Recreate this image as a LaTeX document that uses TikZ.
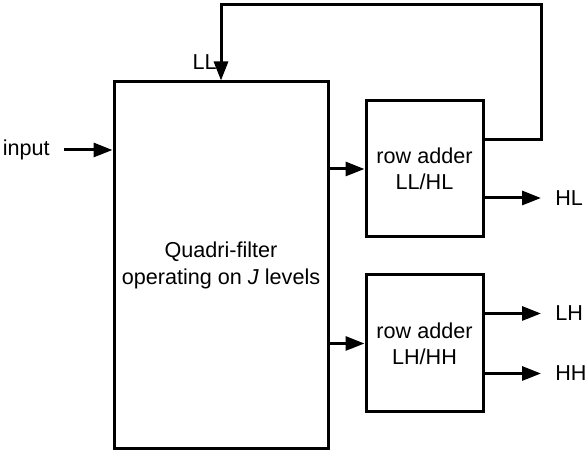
\documentclass[tikz,border=0pt]{standalone}
\usepackage{fontspec}
\setmainfont{Liberation Sans}
\usetikzlibrary{arrows.meta,calc,positioning}
\definecolor{QfInk}{HTML}{000000}
\tikzset{
  qf/box/.style={
    draw=QfInk, line width=1.5pt, fill=white, inner sep=0pt,
    font=\fontsize{10.8}{13.2}\selectfont, align=center
  },
  qf/arrow/.style={
    -{Triangle[length=9.5pt,width=7pt]}, line width=1.5pt, draw=QfInk
  },
  qf/label/.style={font=\fontsize{10.8}{13.2}\selectfont, text=QfInk, inner sep=0pt}
}
\begin{document}
\begin{tikzpicture}[x=0.5pt,y=-0.5pt]
  \useasboundingbox (0,0) rectangle (585,453);
  % blocks
  \node[qf/box,minimum width=107pt,minimum height=183.5pt] (filt) at (221,265.5)
    {Quadri-filter\\operating on \textit{J} levels};
  \node[qf/box,minimum width=58.5pt,minimum height=68pt] (addA) at (424.5,169)
    {row adder\\LL/HL};
  \node[qf/box,minimum width=58.5pt,minimum height=68.5pt] (addB) at (424.5,343.5)
    {row adder\\LH/HH};
  % labels
  \node[qf/label,anchor=east,inner xsep=7pt] (in) at (64,150) {input};
  \node[qf/label,anchor=south east,inner xsep=1pt,inner ysep=1pt] (ll) at (219,72) {LL};
  \node[qf/label,anchor=west,inner xsep=7pt] (hl) at (541,198) {HL};
  \node[qf/label,anchor=west,inner xsep=7pt] (lh) at (541,313.5) {LH};
  \node[qf/label,anchor=west,inner xsep=7pt] (hh) at (541,373.5) {HH};
  \coordinate (fbR) at (541,5);
  % connectors
  \draw[qf/arrow] (in.east) -- (in.east -| filt.west);
  \draw[qf/arrow] (filt.east |- addA.west) -- (addA.west);
  \draw[qf/arrow] (filt.east |- addB.west) -- (addB.west);
  \draw[qf/arrow] ([yshift=14.5pt]addA.east) -| (fbR) -| (filt.north);
  \draw[qf/arrow] ([yshift=-14.5pt]addA.east) -- (hl.west);
  \draw[qf/arrow] ([yshift=15pt]addB.east) -- (lh.west);
  \draw[qf/arrow] ([yshift=-15pt]addB.east) -- (hh.west);
\end{tikzpicture}
\end{document}
